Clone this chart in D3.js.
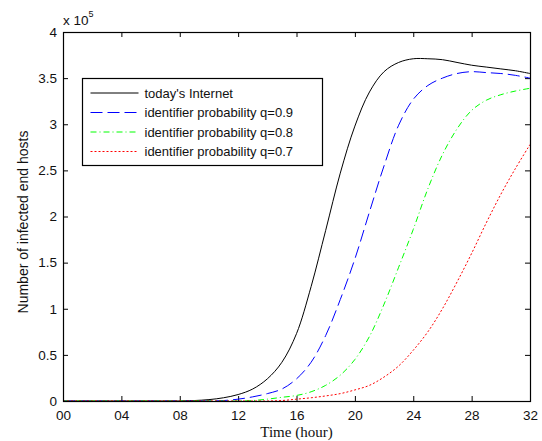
<!DOCTYPE html>
<meta charset="utf-8">
<style>
  body { margin: 0; background: #fff; }
  text { font-family: Arial, "Liberation Sans", sans-serif; fill: #111; }
  .tick line { stroke: #000; }
  .label-serif { font-family: "Times New Roman", "Liberation Serif", serif; }
</style>
<svg width="542" height="441"></svg>
<script src="https://d3js.org/d3.v7.min.js"></script>
<script>
  // time in hours, values in units of 1e5 hosts
  var hours = [0, 1, 2, 3, 4, 5, 6, 7, 8, 9, 10, 11, 12, 13, 14, 15, 16,
    17, 18, 19, 20, 21, 22, 23, 24, 25, 26, 27, 28, 29, 30, 31, 32];

  var today = [0, 0, 0, 0, 0, 0, 0, 0, 0, 0.005, 0.015, 0.035, 0.07, 0.13, 0.24, 0.42, 0.73,
    1.24, 1.85, 2.47, 2.98, 3.35, 3.57, 3.67, 3.71, 3.71, 3.70, 3.67, 3.64, 3.62, 3.60, 3.58, 3.55];
  var q09 = [0, 0, 0, 0, 0, 0, 0, 0, 0, 0, 0, 0.005, 0.02, 0.045, 0.08, 0.13, 0.24,
    0.42, 0.71, 1.10, 1.54, 2.05, 2.55, 2.99, 3.27, 3.42, 3.50, 3.55, 3.57, 3.56, 3.55, 3.53, 3.50];
  var q08 = [0, 0, 0, 0, 0, 0, 0, 0, 0, 0, 0, 0, 0, 0.005, 0.02, 0.04, 0.06,
    0.10, 0.17, 0.28, 0.45, 0.70, 1.05, 1.45, 1.86, 2.30, 2.67, 2.95, 3.15, 3.26, 3.32, 3.36, 3.39];
  var q07 = [0, 0, 0, 0, 0, 0, 0, 0, 0, 0, 0, 0, 0, 0, 0, 0.005, 0.02,
    0.035, 0.055, 0.08, 0.12, 0.17, 0.26, 0.38, 0.55, 0.75, 1.00, 1.29, 1.60, 1.93, 2.24, 2.52, 2.78];

  var seriesNames = ["today's Internet", "identifier probability q=0.9",
    "identifier probability q=0.8", "identifier probability q=0.7"];
  var xTicks = [0, 4, 8, 12, 16, 20, 24, 28, 32];
  var yTicks = [0, 0.5, 1, 1.5, 2, 2.5, 3, 3.5, 4];

  var colors = ["#000000", "#0000ff", "#00ff00", "#ff0000"];
  var dashes = [null, "12,5", "6,3,1,3", "2,2"];
  var seriesValues = [today, q09, q08, q07];

  var svg = d3.select("svg");
  var margin = { top: 32, right: 10, bottom: 40, left: 63 };
  var width = 530 - margin.left;
  var height = 401 - margin.top;
  var g = svg.append("g").attr("transform", "translate(" + margin.left + "," + margin.top + ")");

  var x = d3.scaleLinear().domain([0, 32]).range([0, width]);
  var y = d3.scaleLinear().domain([0, 4]).range([height, 0]);

  var fmtX = d3.format("02d");
  var fmtY = function(d) { return d === 0 ? "0" : String(d); };

  // bottom / top axes
  g.append("g")
    .attr("transform", "translate(0," + height + ")")
    .call(d3.axisBottom(x).tickValues(xTicks).tickFormat(fmtX).tickSize(-5).tickPadding(9))
    .call(function(a) { a.select(".domain").remove(); })
    .selectAll("text").attr("font-size", 13.5).attr("font-family", "Arial, sans-serif");
  g.append("g")
    .call(d3.axisTop(x).tickValues(xTicks).tickFormat("").tickSize(-5))
    .call(function(a) { a.select(".domain").remove(); });

  // left / right axes
  g.append("g")
    .call(d3.axisLeft(y).tickValues(yTicks).tickFormat(fmtY).tickSize(-5).tickPadding(6))
    .call(function(a) { a.select(".domain").remove(); })
    .selectAll("text").attr("font-size", 13.5).attr("font-family", "Arial, sans-serif");
  g.append("g")
    .attr("transform", "translate(" + width + ",0)")
    .call(d3.axisRight(y).tickValues(yTicks).tickFormat("").tickSize(-5))
    .call(function(a) { a.select(".domain").remove(); });

  // series
  var line = d3.line()
    .curve(d3.curveCatmullRom)
    .x(function(d) { return x(d[0]); })
    .y(function(d) { return y(Math.max(0, d[1])); });

  seriesValues.forEach(function(vals, i) {
    g.append("path")
      .datum(hours.map(function(h, j) { return [h, vals[j]]; }))
      .attr("fill", "none")
      .attr("stroke", colors[i])
      .attr("stroke-width", 1)
      .attr("stroke-dasharray", dashes[i])
      .attr("d", line);
  });

  // box
  g.append("rect")
    .attr("x", 0.5).attr("y", 0.5)
    .attr("width", width).attr("height", height)
    .attr("fill", "none").attr("stroke", "#000").attr("stroke-width", 1.2);

  // exponent label
  var ex = svg.append("text").attr("x", 63).attr("y", 25).attr("font-size", 13.5);
  ex.append("tspan").text("x 10");
  ex.append("tspan").attr("dy", -8).attr("font-size", 9).text("5");

  // axis labels
  svg.append("text")
    .attr("class", "label-serif")
    .attr("x", margin.left + width / 2)
    .attr("y", 437)
    .attr("text-anchor", "middle")
    .attr("font-size", 15)
    .text("Time (hour)");

  svg.append("text")
    .attr("transform", "translate(28,222) rotate(-90)")
    .attr("text-anchor", "middle")
    .attr("font-size", 14)
    .text("Number of infected end hosts");

  // legend
  var lg = svg.append("g").attr("transform", "translate(82.5,78.5)");
  lg.append("rect")
    .attr("width", 240).attr("height", 87)
    .attr("fill", "#fff").attr("stroke", "#000").attr("stroke-width", 1.2);
  seriesNames.forEach(function(name, i) {
    var yy = 14.5 + i * 19.5;
    lg.append("line")
      .attr("x1", 8).attr("x2", 56).attr("y1", yy).attr("y2", yy)
      .attr("stroke", colors[i]).attr("stroke-width", 1)
      .attr("stroke-dasharray", dashes[i]);
    lg.append("text")
      .attr("x", 62).attr("y", yy + 4.5)
      .attr("font-size", 13)
      .text(name);
  });
</script>
